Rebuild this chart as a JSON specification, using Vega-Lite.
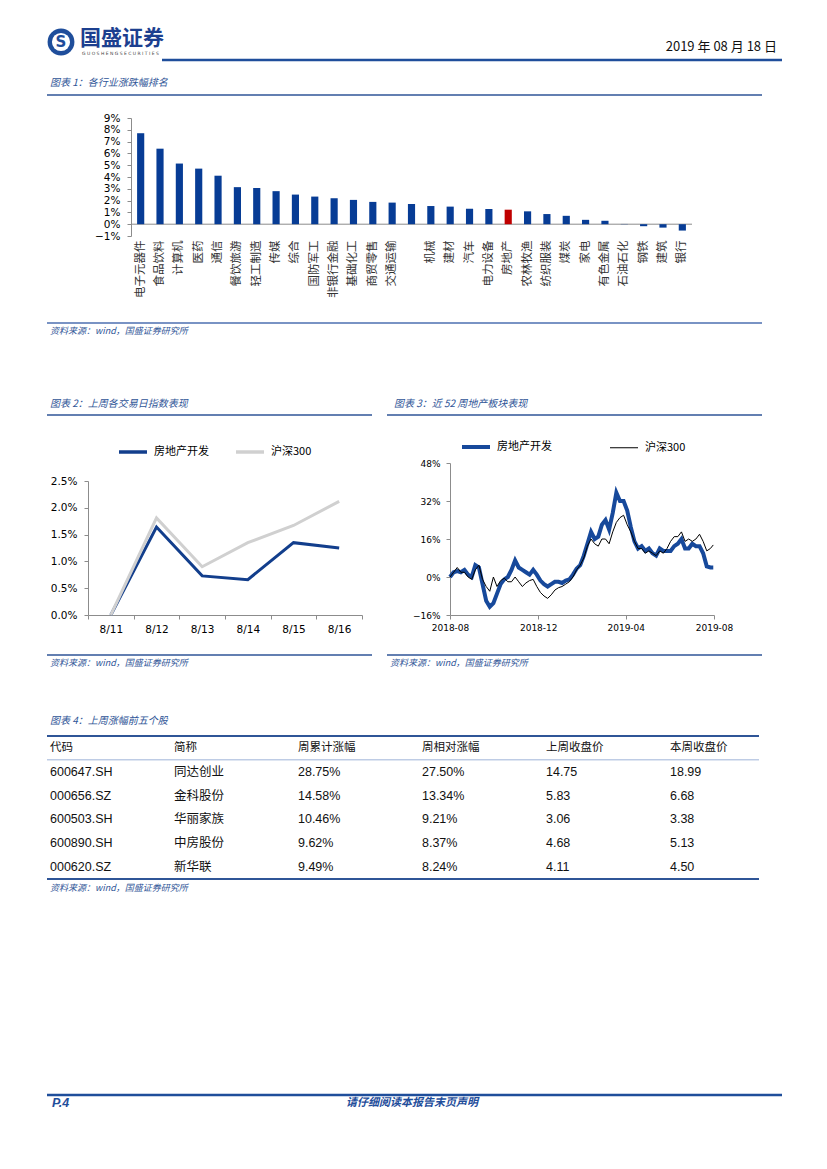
{
"$schema":"https://vega.github.io/schema/vega-lite/v6.json",
"background":"white",
"padding":{"left":45,"top":0,"right":0,"bottom":0},
"columns":1,
"align":"none",
"spacing":0,
"resolve":{"scale":{"color":"independent","strokeWidth":"independent"},"legend":{"color":"independent","strokeWidth":"independent"}},
"config":{
 "view":{"stroke":null},
 "axis":{"grid":false,"labelFont":"DejaVu Sans","labelColor":"#000000","domainColor":"#8c8c8c","tickColor":"#8c8c8c","labelOverlap":false}
},
"datasets":{
 "bars":[
  {"industry":"电子元器件","chg":0.0771},{"industry":"食品饮料","chg":0.0640},{"industry":"计算机","chg":0.0514},
  {"industry":"医药","chg":0.0471},{"industry":"通信","chg":0.0411},{"industry":"餐饮旅游","chg":0.0314},
  {"industry":"轻工制造","chg":0.0306},{"industry":"传媒","chg":0.0280},{"industry":"综合","chg":0.0251},
  {"industry":"国防军工","chg":0.0234},{"industry":"非银行金融","chg":0.0220},{"industry":"基础化工","chg":0.0206},
  {"industry":"商贸零售","chg":0.0189},{"industry":"交通运输","chg":0.0183},{"industry":"电力及公用事业","chg":0.0171},
  {"industry":"机械","chg":0.0154},{"industry":"建材","chg":0.0149},{"industry":"汽车","chg":0.0131},
  {"industry":"电力设备","chg":0.0129},{"industry":"房地产","chg":0.0123},{"industry":"农林牧渔","chg":0.0109},
  {"industry":"纺织服装","chg":0.0086},{"industry":"煤炭","chg":0.0071},{"industry":"家电","chg":0.0037},
  {"industry":"有色金属","chg":0.0029},{"industry":"石油石化","chg":0.0002},{"industry":"钢铁","chg":-0.0017},
  {"industry":"建筑","chg":-0.0029},{"industry":"银行","chg":-0.0054}
 ],
 "c2":[
  {"d":"8/11","房地产开发":0,"沪深300":0},
  {"d":"8/12","房地产开发":0.0164,"沪深300":0.0181},
  {"d":"8/13","房地产开发":0.0073,"沪深300":0.0090},
  {"d":"8/14","房地产开发":0.0066,"沪深300":0.0135},
  {"d":"8/15","房地产开发":0.0135,"沪深300":0.0167},
  {"d":"8/16","房地产开发":0.0125,"沪深300":0.0212}
 ],
 "c3":[
  {"date":"2018-08-17","房地产开发":0,"沪深300":0},
  {"date":"2018-08-22","房地产开发":0.02,"沪深300":0.02},
  {"date":"2018-08-27","房地产开发":0.025,"沪深300":0.04},
  {"date":"2018-09-01","房地产开发":0.02,"沪深300":0.02},
  {"date":"2018-09-06","房地产开发":0.03,"沪深300":0.02},
  {"date":"2018-09-11","房地产开发":0.01,"沪深300":0},
  {"date":"2018-09-16","房地产开发":0,"沪深300":-0.01},
  {"date":"2018-09-21","房地产开发":0.05,"沪深300":0.03},
  {"date":"2018-09-26","房地产开发":0.04,"沪深300":0.05},
  {"date":"2018-10-01","房地产开发":-0.03,"沪深300":-0.01},
  {"date":"2018-10-06","房地产开发":-0.10,"沪深300":-0.04},
  {"date":"2018-10-11","房地产开发":-0.125,"沪深300":-0.06},
  {"date":"2018-10-16","房地产开发":-0.11,"沪深300":0},
  {"date":"2018-10-21","房地产开发":-0.07,"沪深300":-0.04},
  {"date":"2018-10-26","房地产开发":-0.03,"沪深300":-0.015},
  {"date":"2018-10-31","房地产开发":-0.01,"沪深300":-0.005},
  {"date":"2018-11-05","房地产开发":0,"沪深300":-0.02},
  {"date":"2018-11-10","房地产开发":0.03,"沪深300":-0.02},
  {"date":"2018-11-15","房地产开发":0.07,"沪深300":0},
  {"date":"2018-11-20","房地产开发":0.04,"沪深300":-0.02},
  {"date":"2018-11-25","房地产开发":0.03,"沪深300":-0.04},
  {"date":"2018-11-30","房地产开发":0.02,"沪深300":-0.025},
  {"date":"2018-12-05","房地产开发":0.01,"沪深300":-0.015},
  {"date":"2018-12-10","房地产开发":0.03,"沪深300":-0.01},
  {"date":"2018-12-15","房地产开发":0.01,"沪深300":-0.04},
  {"date":"2018-12-20","房地产开发":-0.015,"沪深300":-0.065},
  {"date":"2018-12-25","房地产开发":-0.03,"沪深300":-0.08},
  {"date":"2018-12-30","房地产开发":-0.04,"沪深300":-0.09},
  {"date":"2019-01-04","房地产开发":-0.03,"沪深300":-0.075},
  {"date":"2019-01-09","房地产开发":-0.02,"沪深300":-0.055},
  {"date":"2019-01-14","房地产开发":-0.02,"沪深300":-0.045},
  {"date":"2019-01-19","房地产开发":-0.025,"沪深300":-0.04},
  {"date":"2019-01-24","房地产开发":-0.015,"沪深300":-0.03},
  {"date":"2019-01-29","房地产开发":-0.01,"沪深300":-0.02},
  {"date":"2019-02-03","房地产开发":0.01,"沪深300":0},
  {"date":"2019-02-08","房地产开发":0.035,"沪深300":0.03},
  {"date":"2019-02-13","房地产开发":0.05,"沪深300":0.05},
  {"date":"2019-02-18","房地产开发":0.09,"沪深300":0.08},
  {"date":"2019-02-23","房地产开发":0.14,"沪深300":0.13},
  {"date":"2019-02-28","房地产开发":0.19,"沪深300":0.16},
  {"date":"2019-03-05","房地产开发":0.16,"沪深300":0.14},
  {"date":"2019-03-10","房地产开发":0.17,"沪深300":0.13},
  {"date":"2019-03-15","房地产开发":0.22,"沪深300":0.16},
  {"date":"2019-03-20","房地产开发":0.24,"沪深300":0.16},
  {"date":"2019-03-25","房地产开发":0.20,"沪深300":0.14},
  {"date":"2019-03-30","房地产开发":0.27,"沪深300":0.19},
  {"date":"2019-04-04","房地产开发":0.355,"沪深300":0.23},
  {"date":"2019-04-09","房地产开发":0.32,"沪深300":0.25},
  {"date":"2019-04-14","房地产开发":0.32,"沪深300":0.26},
  {"date":"2019-04-19","房地产开发":0.28,"沪深300":0.22},
  {"date":"2019-04-24","房地产开发":0.21,"沪深300":0.19},
  {"date":"2019-04-29","房地产开发":0.15,"沪深300":0.15},
  {"date":"2019-05-04","房地产开发":0.12,"沪深300":0.12},
  {"date":"2019-05-09","房地产开发":0.13,"沪深300":0.12},
  {"date":"2019-05-14","房地产开发":0.11,"沪深300":0.10},
  {"date":"2019-05-19","房地产开发":0.12,"沪深300":0.11},
  {"date":"2019-05-24","房地产开发":0.10,"沪深300":0.10},
  {"date":"2019-05-29","房地产开发":0.09,"沪深300":0.09},
  {"date":"2019-06-03","房地产开发":0.12,"沪深300":0.11},
  {"date":"2019-06-08","房地产开发":0.11,"沪深300":0.10},
  {"date":"2019-06-13","房地产开发":0.11,"沪深300":0.12},
  {"date":"2019-06-18","房地产开发":0.11,"沪深300":0.15},
  {"date":"2019-06-23","房地产开发":0.13,"沪深300":0.17},
  {"date":"2019-06-28","房地产开发":0.14,"沪深300":0.17},
  {"date":"2019-07-03","房地产开发":0.16,"沪深300":0.19},
  {"date":"2019-07-08","房地产开发":0.12,"沪深300":0.15},
  {"date":"2019-07-13","房地产开发":0.12,"沪深300":0.16},
  {"date":"2019-07-18","房地产开发":0.14,"沪深300":0.15},
  {"date":"2019-07-23","房地产开发":0.13,"沪深300":0.16},
  {"date":"2019-07-28","房地产开发":0.13,"沪深300":0.18},
  {"date":"2019-08-02","房地产开发":0.10,"沪深300":0.15},
  {"date":"2019-08-07","房地产开发":0.045,"沪深300":0.11},
  {"date":"2019-08-12","房地产开发":0.04,"沪深300":0.12},
  {"date":"2019-08-16","房地产开发":0.04,"沪深300":0.135}
 ],
 "tbl":[
  {"row":"h","code":"代码","name":"简称","cum":"周累计涨幅","rel":"周相对涨幅","last":"上周收盘价","cur":"本周收盘价"},
  {"row":"1","code":"600647.SH","name":"同达创业","cum":"28.75%","rel":"27.50%","last":"14.75","cur":"18.99"},
  {"row":"2","code":"000656.SZ","name":"金科股份","cum":"14.58%","rel":"13.34%","last":"5.83","cur":"6.68"},
  {"row":"3","code":"600503.SH","name":"华丽家族","cum":"10.46%","rel":"9.21%","last":"3.06","cur":"3.38"},
  {"row":"4","code":"600890.SH","name":"中房股份","cum":"9.62%","rel":"8.37%","last":"4.68","cur":"5.13"},
  {"row":"5","code":"000620.SZ","name":"新华联","cum":"9.49%","rel":"8.24%","last":"4.11","cur":"4.50"}
 ]
},
"concat":[
 {
  "width":735,"height":113,
  "data":{"values":[{}]},
  "layer":[
   {"mark":{"type":"point","shape":"circle","filled":true,"color":"#1f4e9b","opacity":1,"size":720},
    "encoding":{"x":{"datum":59,"type":"quantitative","scale":{"domain":[45,780],"nice":false,"zero":false},"axis":null},
                "y":{"datum":42,"type":"quantitative","scale":{"domain":[113,0],"nice":false,"zero":false},"axis":null}}},
   {"mark":{"type":"point","shape":"circle","filled":true,"color":"#ffffff","opacity":1,"size":330},
    "encoding":{"x":{"datum":59,"type":"quantitative","scale":{"domain":[45,780],"nice":false,"zero":false},"axis":null},
                "y":{"datum":42,"type":"quantitative","scale":{"domain":[113,0],"nice":false,"zero":false},"axis":null}}},
   {"mark":{"type":"text","align":"center","baseline":"middle","font":"DejaVu Sans","fontSize":15,"fontWeight":"bold","color":"#1f4e9b"},
    "encoding":{"x":{"datum":59,"type":"quantitative","scale":{"domain":[45,780],"nice":false,"zero":false},"axis":null},
                "y":{"datum":42,"type":"quantitative","scale":{"domain":[113,0],"nice":false,"zero":false},"axis":null},
                "text":{"value":"S"}}},
   {"mark":{"type":"text","align":"left","baseline":"middle","font":"Noto Sans CJK SC","fontSize":21,"fontWeight":"bold","color":"#1c3f8f"},
    "encoding":{"x":{"datum":78,"type":"quantitative","scale":{"domain":[45,780],"nice":false,"zero":false},"axis":null},
                "y":{"datum":39,"type":"quantitative","scale":{"domain":[113,0],"nice":false,"zero":false},"axis":null},
                "text":{"value":"国盛证券"}}},
   {"mark":{"type":"text","align":"left","baseline":"middle","font":"DejaVu Sans","fontSize":4.5,"color":"#444444"},
    "encoding":{"x":{"datum":80,"type":"quantitative","scale":{"domain":[45,780],"nice":false,"zero":false},"axis":null},
                "y":{"datum":54,"type":"quantitative","scale":{"domain":[113,0],"nice":false,"zero":false},"axis":null},
                "text":{"value":"G U O S H E N G   S E C U R I T I E S"}}},
   {"mark":{"type":"rule","color":"#1f4e9b","strokeWidth":2.5},
    "encoding":{"x":{"datum":160,"type":"quantitative","scale":{"domain":[45,780],"nice":false,"zero":false},"axis":null},
                "x2":{"datum":780},
                "y":{"datum":60,"type":"quantitative","scale":{"domain":[113,0],"nice":false,"zero":false},"axis":null}}},
   {"mark":{"type":"text","align":"right","baseline":"middle","font":"Noto Sans CJK SC","fontSize":13,"color":"#111111"},
    "encoding":{"x":{"datum":775,"type":"quantitative","scale":{"domain":[45,780],"nice":false,"zero":false},"axis":null},
                "y":{"datum":47,"type":"quantitative","scale":{"domain":[113,0],"nice":false,"zero":false},"axis":null},
                "text":{"value":"2019 年 08 月 18 日"}}},
   {"mark":{"type":"text","align":"left","baseline":"middle","font":"Noto Sans CJK SC","fontSize":10,"fontStyle":"italic","color":"#2f5597"},
    "encoding":{"x":{"datum":48,"type":"quantitative","scale":{"domain":[45,780],"nice":false,"zero":false},"axis":null},
                "y":{"datum":83,"type":"quantitative","scale":{"domain":[113,0],"nice":false,"zero":false},"axis":null},
                "text":{"value":"图表 1：各行业涨跌幅排名"}}},
   {"mark":{"type":"rule","color":"#2f5597","strokeWidth":1.5},
    "encoding":{"x":{"datum":45,"type":"quantitative","scale":{"domain":[45,780],"nice":false,"zero":false},"axis":null},
                "x2":{"datum":760},
                "y":{"datum":95,"type":"quantitative","scale":{"domain":[113,0],"nice":false,"zero":false},"axis":null}}}
  ]
 },
 {
  "columns":2,
  "align":"none",
  "spacing":0,
  "concat":[
   {"width":1,"height":1,"data":{"values":[]},"mark":"point"},
   {
    "width":561,"height":118,
    "data":{"name":"bars"},
    "layer":[
     {"data":{"values":[{}]},
      "mark":{"type":"rule","color":"#8c8c8c","strokeWidth":1},
      "encoding":{"y":{"datum":0,"type":"quantitative"}}},
     {"mark":{"type":"bar"},
      "encoding":{
       "x":{"field":"industry","type":"nominal","sort":null,"scale":{"paddingInner":0.63,"paddingOuter":0.315},
            "axis":{"title":null,"labelAngle":-90,"domain":false,"ticks":false,"tickSize":0,"labelPadding":4,"minExtent":80,"labelOverlap":false,
                    "labelFont":"Noto Sans CJK SC","labelFontSize":11.5,"labelColor":"#333333",
                    "labelExpr":"datum.value == '电力及公用事业' ? '' : datum.value"}},
       "y":{"field":"chg","type":"quantitative","scale":{"domain":[-0.01,0.09],"nice":false,"zero":false},
            "axis":{"title":null,"values":[-0.01,0,0.01,0.02,0.03,0.04,0.05,0.06,0.07,0.08,0.09],"tickCount":20,"format":".0%","labelOverlap":false,
                    "labelFontSize":10.5,"tickSize":4,"labelPadding":7,"minExtent":83}},
       "color":{"condition":{"test":"datum.industry === '房地产'","value":"#c00000"},"value":"#073c95"}
      }}
    ]
   }
  ]
 },
 {
  "width":735,"height":115,
  "data":{"values":[{}]},
  "layer":[
   {"mark":{"type":"rule","color":"#4d6fb0","strokeWidth":1.5},
    "encoding":{"x":{"datum":45,"type":"quantitative","scale":{"domain":[45,780],"nice":false,"zero":false},"axis":null},
                "x2":{"datum":760},
                "y":{"datum":323,"type":"quantitative","scale":{"domain":[431,316],"nice":false,"zero":false},"axis":null}}},
   {"mark":{"type":"text","align":"left","baseline":"middle","font":"Noto Sans CJK SC","fontSize":9,"fontStyle":"italic","color":"#2f5597"},
    "encoding":{"x":{"datum":48,"type":"quantitative","scale":{"domain":[45,780],"nice":false,"zero":false},"axis":null},
                "y":{"datum":331,"type":"quantitative","scale":{"domain":[431,316],"nice":false,"zero":false},"axis":null},
                "text":{"value":"资料来源：wind，国盛证券研究所"}}},
   {"mark":{"type":"text","align":"left","baseline":"middle","font":"Noto Sans CJK SC","fontSize":10,"fontStyle":"italic","color":"#2f5597"},
    "encoding":{"x":{"datum":48,"type":"quantitative","scale":{"domain":[45,780],"nice":false,"zero":false},"axis":null},
                "y":{"datum":404,"type":"quantitative","scale":{"domain":[431,316],"nice":false,"zero":false},"axis":null},
                "text":{"value":"图表 2：上周各交易日指数表现"}}},
   {"mark":{"type":"text","align":"left","baseline":"middle","font":"Noto Sans CJK SC","fontSize":10,"fontStyle":"italic","color":"#2f5597"},
    "encoding":{"x":{"datum":392,"type":"quantitative","scale":{"domain":[45,780],"nice":false,"zero":false},"axis":null},
                "y":{"datum":404,"type":"quantitative","scale":{"domain":[431,316],"nice":false,"zero":false},"axis":null},
                "text":{"value":"图表 3：近 52 周地产板块表现"}}},
   {"mark":{"type":"rule","color":"#2f5597","strokeWidth":1.5},
    "encoding":{"x":{"datum":45,"type":"quantitative","scale":{"domain":[45,780],"nice":false,"zero":false},"axis":null},
                "x2":{"datum":370},
                "y":{"datum":415,"type":"quantitative","scale":{"domain":[431,316],"nice":false,"zero":false},"axis":null}}},
   {"mark":{"type":"rule","color":"#2f5597","strokeWidth":1.5},
    "encoding":{"x":{"datum":385,"type":"quantitative","scale":{"domain":[45,780],"nice":false,"zero":false},"axis":null},
                "x2":{"datum":760},
                "y":{"datum":415,"type":"quantitative","scale":{"domain":[431,316],"nice":false,"zero":false},"axis":null}}}
  ]
 },
 {
  "columns":3,
  "align":"none",
  "spacing":0,
  "resolve":{"scale":{"color":"independent","strokeWidth":"independent"},"legend":{"color":"independent","strokeWidth":"independent"}},
  "concat":[
   {"width":1,"height":1,"data":{"values":[]},"mark":"point"},
   {
    "vconcat":[
     {"width":1,"height":18,"data":{"values":[]},"mark":"point"},
     {
      "width":274,"height":134,
      "data":{"name":"c2"},
      "transform":[{"fold":["房地产开发","沪深300"],"as":["s","v"]}],
      "mark":{"type":"line","strokeWidth":3},
      "encoding":{
       "x":{"field":"d","type":"ordinal","bandPosition":0.5,
            "scale":{"type":"band","domain":["8/11","8/12","8/13","8/14","8/15","8/16"],"paddingInner":0,"paddingOuter":0},
            "axis":{"title":null,"labelAngle":0,"tickBand":"extent","tickSize":4,"labelPadding":5,"labelFontSize":10.5,"minExtent":30,"labelOverlap":false}},
       "y":{"field":"v","type":"quantitative","scale":{"domain":[0,0.025],"nice":false},
            "axis":{"title":null,"values":[0,0.005,0.01,0.015,0.02,0.025],"tickCount":20,"format":".1%","tickSize":4,"labelPadding":7,"labelFontSize":10.5,"minExtent":40,"labelOverlap":false}},
       "color":{"field":"s","type":"nominal","scale":{"domain":["房地产开发","沪深300"],"range":["#123e8c","#d0d0d0"]},
                "legend":{"title":null,"orient":"none","legendX":26,"legendY":-48,"padding":3,"direction":"horizontal","columns":2,
                          "symbolType":"stroke","symbolSize":784,"symbolStrokeWidth":3.5,"labelFont":"Noto Sans CJK SC","labelFontSize":11,
                          "labelColor":"#000000","labelOffset":5,"columnPadding":20}}
      }
     }
    ],
    "bounds":"flush",
    "spacing":0,
    "resolve":{"scale":{"color":"independent"},"legend":{"color":"independent"}}
   },
   {
    "width":264,"height":152,
    "data":{"name":"c3"},
    "transform":[{"fold":["房地产开发","沪深300"],"as":["s","v"]}],
    "mark":{"type":"line"},
    "encoding":{
     "x":{"field":"date","type":"temporal",
          "scale":{"domain":[{"year":2018,"month":8,"date":17,"utc":true},{"year":2019,"month":8,"date":17,"utc":true}],"nice":false},
          "axis":{"title":null,"values":[{"year":2018,"month":8,"date":17,"utc":true},{"year":2018,"month":12,"date":17,"utc":true},{"year":2019,"month":4,"date":17,"utc":true},{"year":2019,"month":8,"date":17,"utc":true}],
                  "tickCount":20,"format":"%Y-%m","labelFlush":false,"tickSize":4,"labelPadding":4,"labelFontSize":9,"minExtent":30,"labelOverlap":false}},
     "y":{"field":"v","type":"quantitative","scale":{"domain":[-0.16,0.48],"nice":false,"zero":false},
          "axis":{"title":null,"values":[-0.16,0,0.16,0.32,0.48],"tickCount":20,"format":".0%","tickSize":4,"labelPadding":6,"labelFontSize":9,"minExtent":86.5,"labelOverlap":false}},
     "color":{"field":"s","type":"nominal","scale":{"domain":["房地产开发","沪深300"],"range":["#17499b","#000000"]},
              "legend":{"title":null,"orient":"none","legendX":10,"legendY":-32,"padding":0,"direction":"horizontal","columns":2,
                        "symbolType":"stroke","symbolSize":784,"labelFont":"Noto Sans CJK SC","labelFontSize":11,
                        "labelColor":"#000000","labelOffset":5,"columnPadding":56}},
     "strokeWidth":{"field":"s","type":"nominal","scale":{"type":"ordinal","domain":["房地产开发","沪深300"],"range":[4,1]},
              "legend":{"title":null,"orient":"none","legendX":10,"legendY":-32,"padding":0,"direction":"horizontal","columns":2,
                        "symbolType":"stroke","symbolSize":784,"labelFont":"Noto Sans CJK SC","labelFontSize":11,
                        "labelColor":"#000000","labelOffset":5,"columnPadding":56}}
    }
   }
  ]
 },
 {
  "width":735,"height":90,
  "data":{"values":[{}]},
  "layer":[
   {"mark":{"type":"rule","color":"#2f5597","strokeWidth":1.5},
    "encoding":{"x":{"datum":45,"type":"quantitative","scale":{"domain":[45,780],"nice":false,"zero":false},"axis":null},
                "x2":{"datum":370},
                "y":{"datum":655,"type":"quantitative","scale":{"domain":[735,645],"nice":false,"zero":false},"axis":null}}},
   {"mark":{"type":"rule","color":"#2f5597","strokeWidth":1.5},
    "encoding":{"x":{"datum":385,"type":"quantitative","scale":{"domain":[45,780],"nice":false,"zero":false},"axis":null},
                "x2":{"datum":760},
                "y":{"datum":655,"type":"quantitative","scale":{"domain":[735,645],"nice":false,"zero":false},"axis":null}}},
   {"mark":{"type":"text","align":"left","baseline":"middle","font":"Noto Sans CJK SC","fontSize":9,"fontStyle":"italic","color":"#2f5597"},
    "encoding":{"x":{"datum":48,"type":"quantitative","scale":{"domain":[45,780],"nice":false,"zero":false},"axis":null},
                "y":{"datum":663,"type":"quantitative","scale":{"domain":[735,645],"nice":false,"zero":false},"axis":null},
                "text":{"value":"资料来源：wind，国盛证券研究所"}}},
   {"mark":{"type":"text","align":"left","baseline":"middle","font":"Noto Sans CJK SC","fontSize":9,"fontStyle":"italic","color":"#2f5597"},
    "encoding":{"x":{"datum":388,"type":"quantitative","scale":{"domain":[45,780],"nice":false,"zero":false},"axis":null},
                "y":{"datum":663,"type":"quantitative","scale":{"domain":[735,645],"nice":false,"zero":false},"axis":null},
                "text":{"value":"资料来源：wind，国盛证券研究所"}}},
   {"mark":{"type":"text","align":"left","baseline":"middle","font":"Noto Sans CJK SC","fontSize":10,"fontStyle":"italic","color":"#2f5597"},
    "encoding":{"x":{"datum":48,"type":"quantitative","scale":{"domain":[45,780],"nice":false,"zero":false},"axis":null},
                "y":{"datum":721,"type":"quantitative","scale":{"domain":[735,645],"nice":false,"zero":false},"axis":null},
                "text":{"value":"图表 4：上周涨幅前五个股"}}}
  ]
 },
 {
  "width":712,"height":143,
  "data":{"name":"tbl"},
  "layer":[
   {"data":{"values":[{}]},"mark":{"type":"rule","color":"#2f5597","strokeWidth":2},
    "encoding":{"y":{"datum":"h","type":"nominal","bandPosition":0,"scale":{"type":"band","domain":["h","1","2","3","4","5"],"paddingInner":0,"paddingOuter":0},"axis":null}}},
   {"data":{"values":[{}]},"mark":{"type":"rule","color":"#9fb3d8","strokeWidth":1},
    "encoding":{"y":{"datum":"1","type":"nominal","bandPosition":0,"scale":{"type":"band","domain":["h","1","2","3","4","5"],"paddingInner":0,"paddingOuter":0},"axis":null}}},
   {"data":{"values":[{}]},"mark":{"type":"rule","color":"#2f5597","strokeWidth":2},
    "encoding":{"y":{"datum":"5","type":"nominal","bandPosition":1,"scale":{"type":"band","domain":["h","1","2","3","4","5"],"paddingInner":0,"paddingOuter":0},"axis":null}}},
   {"mark":{"type":"text","align":"left","baseline":"middle","font":"Liberation Sans, Noto Sans CJK SC","color":"#111111"},
    "encoding":{"x":{"datum":"c1","type":"nominal","scale":{"type":"point","domain":["c1","c2","c3","c4","c5","c6"],"padding":0.371,"align":0.0326},"axis":null},
                "y":{"field":"row","type":"nominal","bandPosition":0.5,"scale":{"type":"band","domain":["h","1","2","3","4","5"],"paddingInner":0,"paddingOuter":0},"axis":null},
                "text":{"field":"code"},
                "size":{"condition":{"test":"datum.row === 'h'","value":11.5},"value":12.5}}},
   {"mark":{"type":"text","align":"left","baseline":"middle","font":"Noto Sans CJK SC","color":"#111111"},
    "encoding":{"x":{"datum":"c2","type":"nominal","scale":{"type":"point","domain":["c1","c2","c3","c4","c5","c6"],"padding":0.371,"align":0.0326},"axis":null},
                "y":{"field":"row","type":"nominal","bandPosition":0.5,"scale":{"type":"band","domain":["h","1","2","3","4","5"],"paddingInner":0,"paddingOuter":0},"axis":null},
                "text":{"field":"name"},
                "size":{"condition":{"test":"datum.row === 'h'","value":11.5},"value":12.5}}},
   {"mark":{"type":"text","align":"left","baseline":"middle","font":"Liberation Sans, Noto Sans CJK SC","color":"#111111"},
    "encoding":{"x":{"datum":"c3","type":"nominal","scale":{"type":"point","domain":["c1","c2","c3","c4","c5","c6"],"padding":0.371,"align":0.0326},"axis":null},
                "y":{"field":"row","type":"nominal","bandPosition":0.5,"scale":{"type":"band","domain":["h","1","2","3","4","5"],"paddingInner":0,"paddingOuter":0},"axis":null},
                "text":{"field":"cum"},
                "size":{"condition":{"test":"datum.row === 'h'","value":11.5},"value":12.5}}},
   {"mark":{"type":"text","align":"left","baseline":"middle","font":"Liberation Sans, Noto Sans CJK SC","color":"#111111"},
    "encoding":{"x":{"datum":"c4","type":"nominal","scale":{"type":"point","domain":["c1","c2","c3","c4","c5","c6"],"padding":0.371,"align":0.0326},"axis":null},
                "y":{"field":"row","type":"nominal","bandPosition":0.5,"scale":{"type":"band","domain":["h","1","2","3","4","5"],"paddingInner":0,"paddingOuter":0},"axis":null},
                "text":{"field":"rel"},
                "size":{"condition":{"test":"datum.row === 'h'","value":11.5},"value":12.5}}},
   {"mark":{"type":"text","align":"left","baseline":"middle","font":"Liberation Sans, Noto Sans CJK SC","color":"#111111"},
    "encoding":{"x":{"datum":"c5","type":"nominal","scale":{"type":"point","domain":["c1","c2","c3","c4","c5","c6"],"padding":0.371,"align":0.0326},"axis":null},
                "y":{"field":"row","type":"nominal","bandPosition":0.5,"scale":{"type":"band","domain":["h","1","2","3","4","5"],"paddingInner":0,"paddingOuter":0},"axis":null},
                "text":{"field":"last"},
                "size":{"condition":{"test":"datum.row === 'h'","value":11.5},"value":12.5}}},
   {"mark":{"type":"text","align":"left","baseline":"middle","font":"Liberation Sans, Noto Sans CJK SC","color":"#111111"},
    "encoding":{"x":{"datum":"c6","type":"nominal","scale":{"type":"point","domain":["c1","c2","c3","c4","c5","c6"],"padding":0.371,"align":0.0326},"axis":null},
                "y":{"field":"row","type":"nominal","bandPosition":0.5,"scale":{"type":"band","domain":["h","1","2","3","4","5"],"paddingInner":0,"paddingOuter":0},"axis":null},
                "text":{"field":"cur"},
                "size":{"condition":{"test":"datum.row === 'h'","value":11.5},"value":12.5}}}
  ]
 },
 {
  "width":735,"height":234,
  "data":{"values":[{}]},
  "layer":[
   {"mark":{"type":"text","align":"left","baseline":"middle","font":"Noto Sans CJK SC","fontSize":9,"fontStyle":"italic","color":"#2f5597"},
    "encoding":{"x":{"datum":48,"type":"quantitative","scale":{"domain":[45,780],"nice":false,"zero":false},"axis":null},
                "y":{"datum":887,"type":"quantitative","scale":{"domain":[1113,879],"nice":false,"zero":false},"axis":null},
                "text":{"value":"资料来源：wind，国盛证券研究所"}}},
   {"mark":{"type":"rule","color":"#1f4e9b","strokeWidth":2.5},
    "encoding":{"x":{"datum":45,"type":"quantitative","scale":{"domain":[45,780],"nice":false,"zero":false},"axis":null},
                "x2":{"datum":780},
                "y":{"datum":1094,"type":"quantitative","scale":{"domain":[1113,879],"nice":false,"zero":false},"axis":null}}},
   {"mark":{"type":"text","align":"left","baseline":"middle","font":"Liberation Sans","fontSize":12.5,"fontStyle":"italic","fontWeight":"bold","color":"#1f4e9b"},
    "encoding":{"x":{"datum":50,"type":"quantitative","scale":{"domain":[45,780],"nice":false,"zero":false},"axis":null},
                "y":{"datum":1102,"type":"quantitative","scale":{"domain":[1113,879],"nice":false,"zero":false},"axis":null},
                "text":{"value":"P.4"}}},
   {"mark":{"type":"text","align":"center","baseline":"middle","font":"Noto Sans CJK SC","fontSize":11,"fontStyle":"italic","fontWeight":"bold","color":"#1f4e9b"},
    "encoding":{"x":{"datum":410,"type":"quantitative","scale":{"domain":[45,780],"nice":false,"zero":false},"axis":null},
                "y":{"datum":1102,"type":"quantitative","scale":{"domain":[1113,879],"nice":false,"zero":false},"axis":null},
                "text":{"value":"请仔细阅读本报告末页声明"}}}
  ]
 }
]
}
